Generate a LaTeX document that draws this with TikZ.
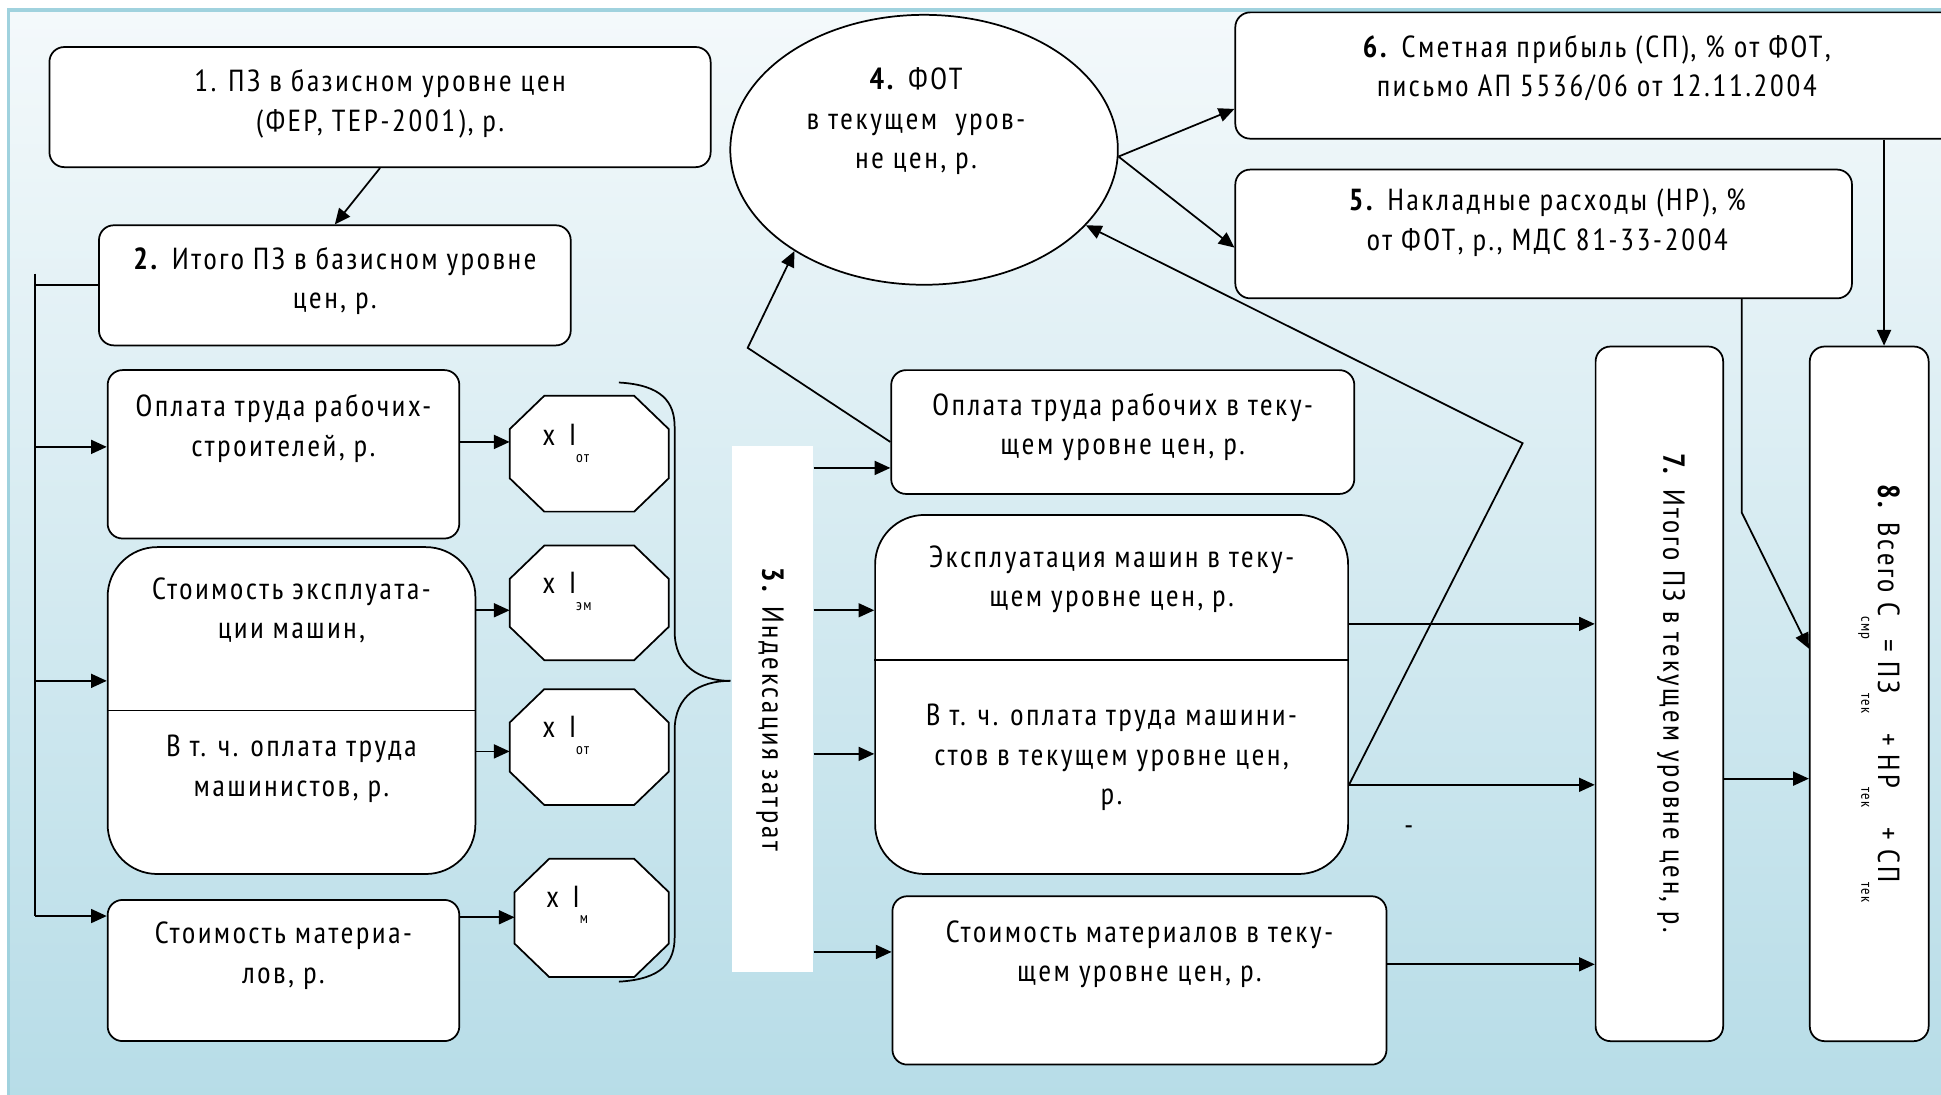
\documentclass[tikz,border=0pt]{standalone}
\usepackage{fontspec}
\setmainfont[LetterSpace=9]{PT Sans Narrow}
\usetikzlibrary{arrows.meta,shapes.geometric,calc}
\definecolor{bgtop}{HTML}{F4F9FB}
\definecolor{bgbot}{HTML}{B6DCE7}
\definecolor{framec}{HTML}{A0D2DE}
\newcommand\lsub[1]{\raisebox{-1.1ex}{\fontsize{9}{9}\selectfont #1}}
\newcommand\drawoct[1]{\draw[line width=1pt,fill=white] ($(#1.north west)+(28,0)$) -- ($(#1.north east)+(-28,0)$) -- ($(#1.north east)+(0,27)$) -- ($(#1.south east)+(0,-27)$) -- ($(#1.south east)+(-28,0)$) -- ($(#1.south west)+(28,0)$) -- ($(#1.south west)+(0,-27)$) -- ($(#1.north west)+(0,27)$) -- cycle;}
\begin{document}
\begin{tikzpicture}[x=0.025cm,y=-0.025cm,
 every node/.style={font=\fontsize{17.5}{22.7}\selectfont},
 box/.style={draw,fill=white,line width=1pt,rounded corners=0.3cm,inner sep=0pt},
 bigbox/.style={box,rounded corners=1cm},
 octarea/.style={inner sep=0pt},
 txt/.style={align=center,inner sep=0pt},
 arr/.style={line width=1pt,-{Triangle[length=9pt,width=8pt]}},
 ln/.style={line width=1pt}]
\useasboundingbox (0,0) rectangle (1568,884);
\fill[white] (0,0) rectangle (1568,884);
\shade[top color=bgtop, bottom color=bgbot] (7,8) rectangle (1580,900);
\draw[framec, line width=2pt] (7,900) -- (7,8) -- (1580,8);

% left column
\node[box,minimum width=13.35cm,minimum height=2.425cm] (b1) at (307,86.5) {};
\node[txt] (t1) at (307,84) {1. ПЗ в базисном уровне цен\\(ФЕР, ТЕР-2001), р.};
\node[box,minimum width=9.525cm,minimum height=2.425cm] (b2) at (270.5,230.5) {};
\node[txt] (t2) at (270.5,227) {\textbf{2.} Итого ПЗ в базисном уровне\\цен, р.};
\node[box,minimum width=7.1cm,minimum height=3.4cm] (bA) at (229,367) {};
\node[txt] (tA) at (229,346) {Оплата труда рабочих-\\строителей, р.};
\node[bigbox,minimum width=7.425cm,minimum height=6.6cm] (bB) at (235.5,574) {};
\draw[ln] (bB.west) -- (bB.east);
\node[txt] (tB1) at (235.5,493) {Стоимость эксплуата-\\ции машин,};
\node[txt] (tB2) at (235.5,621) {В т. ч. оплата труда\\машинистов, р.};
\node[box,minimum width=7.1cm,minimum height=2.85cm] (bC) at (229,784) {};
\node[txt] (tC) at (229,772) {Стоимость материа-\\лов, р.};

% octagons
\node[octarea,minimum width=3.2cm,minimum height=2.325cm] (o1) at (476,366.5) {};
\drawoct{o1}
\node[anchor=west,inner sep=0] (o1t) at (438,358) {x\hspace{8pt}I\lsub{от}};
\node[octarea,minimum width=3.2cm,minimum height=2.3cm] (o2) at (476,487) {};
\drawoct{o2}
\node[anchor=west,inner sep=0] (o2t) at (438,478) {x\hspace{8pt}I\lsub{эм}};
\node[octarea,minimum width=3.2cm,minimum height=2.325cm] (o3) at (476,603.5) {};
\drawoct{o3}
\node[anchor=west,inner sep=0] (o3t) at (438,594) {x\hspace{8pt}I\lsub{от}};
\node[octarea,minimum width=3.1cm,minimum height=2.375cm] (o4) at (478,741.5) {};
\drawoct{o4}
\node[anchor=west,inner sep=0] (o4t) at (441,731) {x\hspace{8pt}I\lsub{м}};

% bus
\coordinate (busTop) at (28,221);
\coordinate (busBot) at (28,740);
\draw[ln] (busTop) -- (busBot);
\draw[ln] (busTop |- b2.west) -- (b2.west);
\draw[arr] (busTop |- 0,361) -- (bA.west |- 0,361);
\draw[arr] (busTop |- 0,550) -- (bB.west |- 0,550);
\draw[arr] (busBot) -- (bC.west |- busBot);
\draw[arr] (b1.south) -- (b2.north);
\draw[arr] (bA.east |- 0,357) -- (o1.west |- 0,357);
\draw[arr] (bB.east |- 0,493) -- (o2.west |- 0,493);
\draw[arr] (bB.east |- 0,607) -- (o3.west |- 0,607);
\draw[arr] (bC.east |- 0,741) -- (o4.west |- 0,741);

% brace
\coordinate (brTip) at (590,550);
\draw[ln] (500,309) .. controls (535,311) and (545,325) .. (545,345) -- (545,510) .. controls (545,538) and (565,550) .. (brTip);
\draw[ln] (brTip) .. controls (565,550) and (545,562) .. (545,590) -- (545,757) .. controls (545,777) and (535,791) .. (500,793);

% indexation
\node[fill=white,minimum width=1.65cm,minimum height=10.625cm,inner sep=0] (n3) at (624,572.5) {};
\node[rotate=-90,inner sep=0] (t3) at (622,573) {\textbf{3.} Индексация затрат};

% current-level boxes
\node[box,minimum width=9.35cm,minimum height=2.5cm] (bD) at (907,349) {};
\node[txt] (tD) at (907,345) {Оплата труда рабочих в теку-\\щем уровне цен, р.};
\node[bigbox,minimum width=9.55cm,minimum height=7.25cm] (bE) at (898,561) {};
\draw[ln] (bE.west |- 0,533) -- (bE.east |- 0,533);
\node[txt] (tE1) at (898,468) {Эксплуатация машин в теку-\\щем уровне цен, р.};
\node[txt] (tE2) at (898,612) {В т. ч. оплата труда машини-\\стов в текущем уровне цен,\\р.};
\node[box,minimum width=9.975cm,minimum height=3.4cm] (bF) at (920.5,792) {};
\node[txt] (tF) at (920.5,771) {Стоимость материалов в теку-\\щем уровне цен, р.};

\draw[arr] (n3.east |- 0,378) -- (bD.west |- 0,378);
\draw[arr] (n3.east |- 0,493) -- (bE.west |- 0,493);
\draw[arr] (n3.east |- 0,609) -- (bE.west |- 0,609);
\draw[arr] (n3.east |- 0,769) -- (bF.west |- 0,769);

% FOT ellipse
\node[draw,fill=white,ellipse,line width=1pt,minimum width=7.825cm,minimum height=5.45cm,inner sep=0] (el) at (746.5,121) {};
\node[txt] (t4) at (740,98) {\textbf{4.} ФОТ\\в текущем\hspace{0.6em}уров-\\не цен, р.};

% top right
\node[box,minimum width=14.8cm,minimum height=2.55cm] (b6) at (1294,61) {};
\node[txt] (t6) at (1290,55) {\textbf{6.} Сметная прибыль (СП), \% от ФОТ,\\письмо АП 5536/06 от 12.11.2004};
\node[box,minimum width=12.45cm,minimum height=2.6cm] (b5) at (1247,189) {};
\node[txt] (t5) at (1250,180) {\textbf{5.} Накладные расходы (НР), \%\\от ФОТ, р., МДС 81-33-2004};

% totals
\node[box,minimum width=2.575cm,minimum height=14.025cm] (b7) at (1340.5,560.5) {};
\node[rotate=-90,inner sep=0] (t7) at (1350,560) {\textbf{7.} Итого ПЗ в текущем уровне цен, р.};
\node[box,minimum width=2.4cm,minimum height=14.025cm] (b8) at (1510,560.5) {};
\node[rotate=-90,inner sep=0] (t8) at (1518,560) {\textbf{8.} Всего С\lsub{смр}= ПЗ\lsub{тек}\hspace{6pt} + НР\lsub{тек}\hspace{6pt} + СП\lsub{тек}};

\node[inner sep=0] (dash) at (1138,671) {-};

% connectors
\coordinate (kD) at (604,281);
\draw[arr] (bD.west |- 0,357) -- (kD) -- (el.218);
\draw[arr] (el.-2) -- (b6.west |- 0,88);
\draw[arr] (el.-2) -- (b5.west |- 0,200);
\draw[arr] (b6.south -| 1522,0) -- (b8.north -| 1522,0);
\coordinate (k5) at (1407,414);
\draw[arr] (b5.south -| k5) -- (k5) -- (b8.west |- 0,524);
\draw[arr] (bE.east |- 0,504) -- (b7.west |- 0,504);
\draw[arr] (bE.east |- 0,634) -- (b7.west |- 0,634);
\draw[arr] (bF.east |- 0,779) -- (b7.west |- 0,779);
\draw[arr] (b7.east |- 0,629) -- (b8.west |- 0,629);
\coordinate (kE) at (1230,358);
\draw[arr] (bE.east |- 0,634) -- (kE) -- (el.-25);
\end{tikzpicture}
\end{document}
